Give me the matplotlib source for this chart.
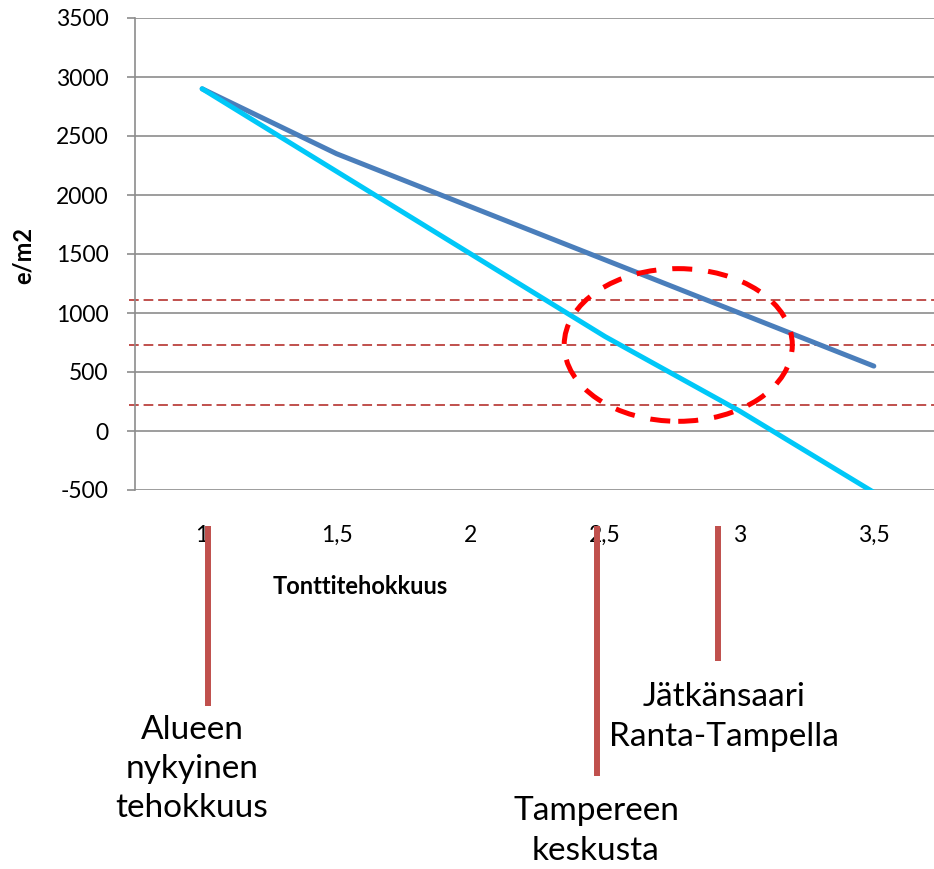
import matplotlib.pyplot as plt
from matplotlib.patches import Ellipse
import matplotlib.transforms as mtransforms

plt.rcParams['font.family'] = ['Lato', 'DejaVu Sans']
plt.rcParams['axes.unicode_minus'] = False

# Data
tehokkuus = [1, 1.5, 2, 2.5, 3, 3.5]
tick_labels = ['1', '1,5', '2', '2,5', '3', '3,5']
hinta_a = [2900, 2350, 1900, 1450, 1000, 550]
hinta_b = [2900, 2200, 1500, 800, 170, -520]
ref_levels = [1110, 730, 220]

# reference densities marked below the chart
marker_x = [1.02, 2.47, 2.92]
marker_len = [0.457, 0.606, 0.362]   # depth below axis (axes fraction)
marker_text = ['Alueen\nnykyinen\ntehokkuus', 'Tampereen\nkeskusta',
               'Jätkänsaari\nRanta-Tampella']
text_pos = [(192, 769), (596, 831), (724, 717)]  # pixel centres

W, H = 934, 869
fig = plt.figure(figsize=(W / 100, H / 100), dpi=100)
ax = fig.add_axes([135 / W, (H - 490) / H, 806 / W, 472 / H])

grid_col = '#8c8c8c'
ax.set_ylim(-500, 3500)
ax.set_yticks(range(-500, 3501, 500))
ax.set_xlim(0.75, 3.75)
ax.set_xticks(tehokkuus)
ax.set_xticklabels(tick_labels)
ax.yaxis.grid(True, color=grid_col, linewidth=1.2)
ax.set_axisbelow(True)
for s in ['top', 'right', 'bottom']:
    ax.spines[s].set_visible(False)
ax.spines['left'].set_color(grid_col)
ax.spines['left'].set_linewidth(1.2)
ax.tick_params(axis='y', length=6, width=1.2, color=grid_col, pad=13, labelsize=16.5)
ax.tick_params(axis='x', length=0, pad=25, labelsize=16.5)

ax.plot(tehokkuus, hinta_a, color='#4A7EBB', lw=3.6, solid_capstyle='round',
        solid_joinstyle='round', zorder=3)
ax.plot(tehokkuus, hinta_b, color='#00C8F8', lw=3.6, solid_capstyle='round',
        solid_joinstyle='round', zorder=4)

for lev in ref_levels:
    ax.axhline(lev, xmin=-0.008, color='#C0504D', lw=1.4,
               ls=(0, (5, 2.5)), clip_on=False, zorder=2)

ax.add_patch(Ellipse((2.772, 729), 0.849, 1294, fill=False, edgecolor='#FF0000',
                     lw=3.6, ls=(0, (4, 3.2)), zorder=5))

ax.set_xlabel('Tonttitehokkuus', fontsize=17, fontweight='bold', va='top')
ax.xaxis.set_label_coords(0.28, -0.18)
ax.set_ylabel('e/m2', fontsize=17, fontweight='bold', va='center')
ax.yaxis.set_label_coords(-0.139, 0.498)

trans = mtransforms.blended_transform_factory(ax.transData, ax.transAxes)
for mx, ml in zip(marker_x, marker_len):
    ax.plot([mx, mx], [-0.0763, -ml], color='#C0504D', lw=4.3,
            solid_capstyle='butt', transform=trans, clip_on=False)

for txt, (px, py) in zip(marker_text, text_pos):
    fig.text(px / W, (H - py) / H, txt, ha='center', va='center',
             fontsize=24, linespacing=1.38)

fig.savefig('out.png', dpi=100, facecolor='white')
